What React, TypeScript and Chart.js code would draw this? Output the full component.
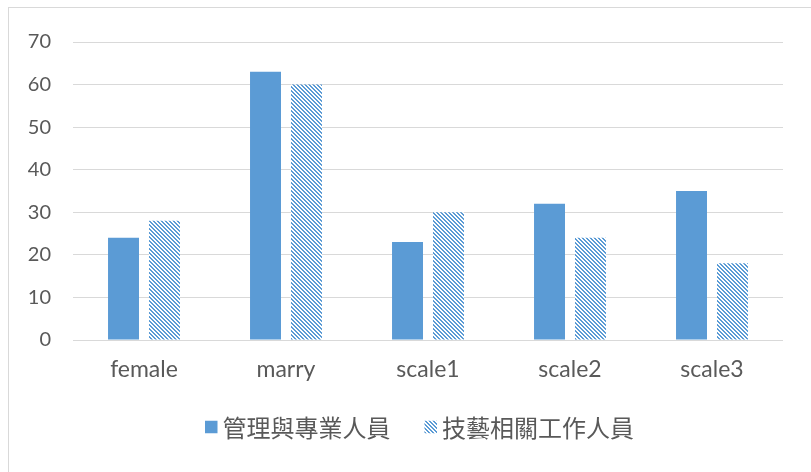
import React, { useEffect, useRef } from "react";
import { Chart, registerables } from "chart.js";

Chart.register(...registerables);

const categories = ["female", "marry", "scale1", "scale2", "scale3"];
const managementValues = [24, 63, 23, 32, 35];
const technicalValues = [28, 60, 30, 24, 18];
const seriesNames = ["管理與專業人員", "技藝相關工作人員"];
const yMin = 0;
const yMax = 70;
const yStep = 10;

const BLUE = "#5B9BD5";
const GRID = "#D9D9D9";
const TEXT = "#595959";

// Downward diagonal hatch: 2px blue / 2px white stripes.
function makeHatch(ctx: CanvasRenderingContext2D, color: string) {
  const tile = document.createElement("canvas");
  tile.width = 4;
  tile.height = 4;
  const t = tile.getContext("2d")!;
  t.fillStyle = "#ffffff";
  t.fillRect(0, 0, 4, 4);
  t.fillStyle = color;
  for (let y = 0; y < 4; y++) {
    for (let x = 0; x < 4; x++) {
      if ((((x - y) % 4) + 4) % 4 < 2) t.fillRect(x, y, 1, 1);
    }
  }
  return ctx.createPattern(tile, "repeat")!;
}

// Frame around the chart (right/bottom edges run past the canvas).
const framePlugin = {
  id: "frame",
  beforeDraw(chart: Chart) {
    const ctx = chart.ctx;
    ctx.save();
    ctx.fillStyle = "#ffffff";
    ctx.fillRect(0, 0, chart.width, chart.height);
    ctx.strokeStyle = GRID;
    ctx.lineWidth = 1;
    ctx.strokeRect(8.5, 7.5, chart.width + 20, chart.height + 20);
    ctx.restore();
  },
};

// Legend drawn under the axis: swatch + label per dataset.
const legendPlugin = {
  id: "bottomLegend",
  afterDraw(chart: Chart) {
    const ctx = chart.ctx;
    const font = "24px 'Noto Sans CJK TC', 'Noto Sans CJK SC', sans-serif";
    ctx.save();
    ctx.font = font;
    const box = 12.5;
    const boxGap = 5;
    const itemGap = 34;
    const items = chart.data.datasets.map((ds) => ({
      label: ds.label as string,
      fill: ds.backgroundColor as any,
      w: ctx.measureText(ds.label as string).width,
    }));
    const total =
      items.reduce((s, it) => s + box + boxGap + it.w, 0) + itemGap * (items.length - 1);
    let x = 419.5 - total / 2;
    const cy = 427;
    for (const it of items) {
      ctx.fillStyle = it.fill;
      ctx.fillRect(x, cy - box / 2, box, box);
      ctx.fillStyle = TEXT;
      ctx.textBaseline = "middle";
      ctx.textAlign = "left";
      ctx.fillText(it.label, x + box + boxGap, cy + 1);
      x += box + boxGap + it.w + itemGap;
    }
    ctx.restore();
  },
};

export default function App() {
  const canvasRef = useRef<HTMLCanvasElement | null>(null);

  useEffect(() => {
    const canvas = canvasRef.current!;
    const ctx = canvas.getContext("2d")!;
    const hatch = makeHatch(ctx, BLUE);

    const chart = new Chart(canvas, {
      type: "bar",
      data: {
        labels: categories,
        datasets: [
          {
            label: seriesNames[0],
            data: managementValues,
            backgroundColor: BLUE,
            borderWidth: 0,
            barPercentage: 0.756,
            categoryPercentage: 0.577,
          },
          {
            label: seriesNames[1],
            data: technicalValues,
            backgroundColor: hatch,
            borderWidth: 0,
            barPercentage: 0.756,
            categoryPercentage: 0.577,
          },
        ],
      },
      options: {
        animation: false,
        responsive: false,
        maintainAspectRatio: false,
        devicePixelRatio: 1,
        layout: { padding: { left: 0, right: 28, top: 42, bottom: 91 } },
        scales: {
          x: {
            grid: { display: false, drawTicks: false },
            border: { display: false },
            ticks: {
              color: TEXT,
              font: { family: "Lato, 'Open Sans', sans-serif", size: 23 },
              padding: 16,
            },
            afterFit: (s: any) => {
              s.height = 41;
            },
          },
          y: {
            min: yMin,
            max: yMax,
            ticks: {
              stepSize: yStep,
              color: TEXT,
              font: { family: "Lato, 'Open Sans', sans-serif", size: 20 },
              padding: 22,
            },
            grid: { color: GRID, lineWidth: 1, drawTicks: false },
            border: { display: false },
            afterFit: (s: any) => {
              s.width = 73;
            },
          },
        },
        plugins: {
          legend: { display: false },
          tooltip: { enabled: false },
        },
      },
      plugins: [framePlugin, legendPlugin],
    });

    return () => chart.destroy();
  }, []);

  return (
    <canvas
      ref={canvasRef}
      width={811}
      height={472}
      style={{ position: "absolute", left: 0, top: 0, display: "block" }}
    />
  );
}
